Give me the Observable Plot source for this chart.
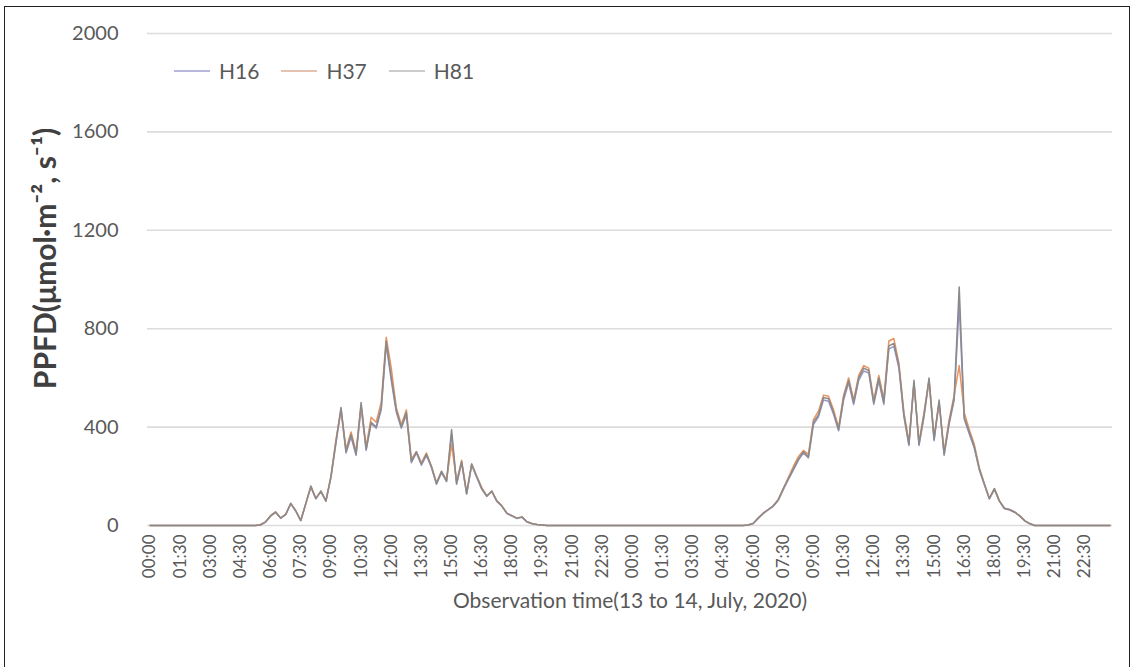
<!DOCTYPE html>
<html>
<head>
<meta charset="utf-8">
<script src="https://cdn.jsdelivr.net/npm/d3@7"></script>
<script src="https://cdn.jsdelivr.net/npm/@observablehq/plot@0.6"></script>
<style>
  body { margin: 0; background: #fff; }
  #wrap { position: relative; width: 1133px; height: 667px; overflow: hidden; font-family: Lato, "Open Sans", sans-serif; }
  #frame { position: absolute; left: 4px; top: 6px; width: 1126px; height: 700px; border: 1px solid #222; box-sizing: border-box; }
  #chart { position: absolute; left: 0; top: 0; }
  #legend { position: absolute; left: 174px; top: 58px; display: flex; align-items: center; font-size: 21px; color: #595959; }
  .item { display: flex; align-items: center; margin-right: 22px; }
  .sw { width: 36px; height: 2px; margin-right: 9px; }
</style>
</head>
<body>
<div id="wrap">
  <div id="frame"></div>
  <div id="chart"></div>
  <div id="legend"></div>
</div>
<script>
// 15-minute readings, 13 July 00:00 -> 14 July 23:45 (192 slots)
const seriesNames = ["H16", "H37", "H81"];
const seriesColors = ["#9896c8", "#e9935e", "#8a8a8a"];
const legendColors = ["#b9b8dc", "#e6c2b2", "#cccccc"];

const H16 = [
  // 13 July
  0,0,0,0,0,0,0,0,0,0,0,0,0,0,0,0,0,0,0,0,0,0,
  3,14,38,52,30,44,88,58,20,88,155,108,138,98,195,335,470,295,360,285,
  480,305,415,395,470,735,590,460,395,450,255,295,245,285,235,168,215,178,370,168,
  255,128,245,195,148,118,138,98,78,48,38,28,33,14,7,4,2,
  0,0,0,0,0,0,0,0,0,0,0,0,0,0,0,0,0,
  // 14 July
  0,0,0,0,0,0,0,0,0,0,0,0,0,0,0,0,0,0,0,0,0,0,0,
  2,8,29,48,63,78,102,146,186,225,265,295,275,410,442,510,505,452,385,510,
  580,492,590,628,620,492,588,492,718,728,640,442,325,578,325,442,588,345,500,285,
  412,510,900,432,372,315,226,166,108,146,98,68,63,54,39,19,8,
  0,0,0,0,0,0,0,0,0,0,0,0,0,0,0,0
];
const H37 = [
  0,0,0,0,0,0,0,0,0,0,0,0,0,0,0,0,0,0,0,0,0,0,
  3,15,40,55,30,45,90,60,20,90,160,110,140,100,200,350,470,310,380,300,
  490,320,440,420,500,765,640,480,410,470,270,300,255,295,240,175,220,185,330,180,
  265,135,250,200,155,120,140,100,80,50,40,30,35,15,8,4,2,
  0,0,0,0,0,0,0,0,0,0,0,0,0,0,0,0,0,
  0,0,0,0,0,0,0,0,0,0,0,0,0,0,0,0,0,0,0,0,0,0,0,
  2,8,30,50,65,80,105,150,195,240,280,305,290,430,465,530,525,470,400,530,
  600,510,610,650,640,510,610,515,750,760,660,460,340,580,340,460,590,360,500,300,
  430,530,650,460,390,330,235,170,110,150,100,70,65,55,40,20,8,
  0,0,0,0,0,0,0,0,0,0,0,0,0,0,0,0
];
const H81 = [
  0,0,0,0,0,0,0,0,0,0,0,0,0,0,0,0,0,0,0,0,0,0,
  3,15,40,55,30,45,90,60,20,90,160,110,140,100,200,340,480,300,370,290,
  500,310,420,400,480,750,600,470,400,460,260,300,250,290,240,170,220,180,390,170,
  260,130,250,200,150,120,140,100,80,50,40,30,35,15,8,4,2,
  0,0,0,0,0,0,0,0,0,0,0,0,0,0,0,0,0,
  0,0,0,0,0,0,0,0,0,0,0,0,0,0,0,0,0,0,0,0,0,0,0,
  2,8,30,50,65,80,105,150,190,230,270,300,280,420,450,520,515,460,390,520,
  590,500,600,640,630,500,600,500,730,740,650,450,330,590,330,450,600,350,510,290,
  420,520,970,440,380,320,230,170,110,150,100,70,65,55,40,20,8,
  0,0,0,0,0,0,0,0,0,0,0,0,0,0,0,0
];

const tickLabels = [
  "00:00","01:30","03:00","04:30","06:00","07:30","09:00","10:30",
  "12:00","13:30","15:00","16:30","18:00","19:30","21:00","22:30",
  "00:00","01:30","03:00","04:30","06:00","07:30","09:00","10:30",
  "12:00","13:30","15:00","16:30","18:00","19:30","21:00","22:30"
];
const yTicks = [0, 400, 800, 1200, 1600, 2000];
const yTitle = "PPFD(μmol·m⁻², s⁻¹)";
const xTitle = "Observation time(13 to 14, July, 2020)";

const allSeries = [H16, H37, H81];
const data = [];
allSeries.forEach((arr, s) => arr.forEach((v, i) => data.push({i, v, series: seriesNames[s]})));
const tickIdx = tickLabels.map((_, k) => k * 6);

const plot = Plot.plot({
  width: 1133,
  height: 667,
  marginLeft: 147,
  marginRight: 21,
  marginTop: 33,
  marginBottom: 142,
  style: {fontFamily: "Lato, 'Open Sans', sans-serif", color: "#595959", background: "transparent"},
  x: {domain: [-0.5, H81.length - 0.5]},
  y: {domain: [0, 2000]},
  color: {domain: seriesNames, range: seriesColors},
  marks: [
    Plot.gridY(yTicks, {stroke: "#dcdcdc", strokeOpacity: 1, strokeWidth: 1.6}),
    Plot.lineY(data, {x: "i", y: "v", z: "series", stroke: "series", strokeWidth: 1.5}),
    Plot.axisY(yTicks, {tickSize: 0, tickPadding: 29, fontSize: 20, label: null, tickFormat: (d) => String(d)}),
    Plot.axisX(tickIdx, {tickSize: 0, tickPadding: 9, tickRotate: -90, fontSize: 17,
      tickFormat: (d) => tickLabels[tickIdx.indexOf(d)], label: null}),
    Plot.text([yTitle], {frameAnchor: "left", textAnchor: "middle", rotate: -90, dx: -101, dy: -21, fontSize: 30, fontWeight: "bold", fill: "#404040"}),
    Plot.text([xTitle], {frameAnchor: "bottom", textAnchor: "middle", dy: 82, fontSize: 21, fill: "#595959"})
  ]
});
document.getElementById("chart").appendChild(plot);

const legend = document.getElementById("legend");
seriesNames.forEach((n, k) => {
  const it = document.createElement("div");
  it.className = "item";
  const sw = document.createElement("div");
  sw.className = "sw";
  sw.style.background = legendColors[k];
  const lb = document.createElement("span");
  lb.textContent = n;
  it.appendChild(sw);
  it.appendChild(lb);
  legend.appendChild(it);
});
</script>
</body>
</html>
